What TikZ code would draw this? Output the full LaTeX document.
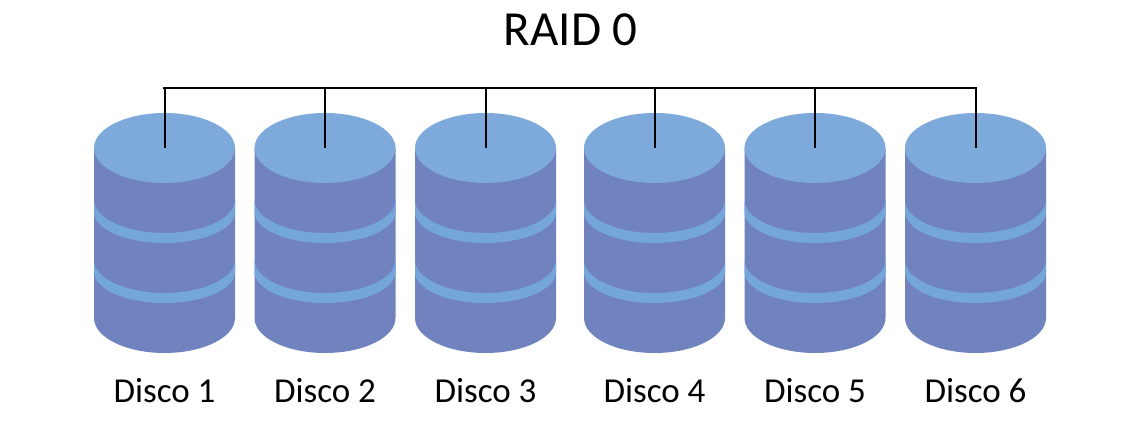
\documentclass[tikz,border=0pt]{standalone}
\usepackage{fontspec}
\setmainfont{Carlito}
\usetikzlibrary{positioning}
\definecolor{topColor}{RGB}{125,169,219}
\definecolor{bodyColor}{RGB}{113,131,190}
\definecolor{bandColor}{RGB}{117,166,217}

% one disc: body, two bands, lid, then its name underneath
\newcommand{\disco}[3]{
  \coordinate (#1) at (#2,274);
  \fill [bodyColor] (#1) ++(-70.5,0) -- ++(0,-170) arc[x radius=70.5pt,y radius=35pt,start angle=180,end angle=360] -- ++(0,170) -- cycle;
  \fill [bandColor] (#1) ++(-70.5,-52) arc[x radius=70.5pt,y radius=33pt,start angle=180,end angle=360] -- ++(0,-12) arc[x radius=70.5pt,y radius=31pt,start angle=360,end angle=180] -- cycle;
  \fill [bandColor] (#1) ++(-70.5,-112) arc[x radius=70.5pt,y radius=33pt,start angle=180,end angle=360] -- ++(0,-12) arc[x radius=70.5pt,y radius=31pt,start angle=360,end angle=180] -- cycle;
  \fill [topColor] (#1) ellipse[x radius=70.5pt,y radius=35pt];
  \node [caption, below=255pt of #1, anchor=base] (#1-caption) {#3};
  \coordinate [above=60pt of #1] (#1-bus);
}

\begin{document}
\begin{tikzpicture}[x=1pt,y=1pt]
  \tikzstyle{caption} = [inner sep=0pt,font=\fontsize{35}{41}\selectfont,text=black]
  \tikzstyle{title} = [inner sep=0pt,font=\fontsize{49}{57}\selectfont,text=black]
  \tikzstyle{wire} = [draw=black,line width=2pt]

  \useasboundingbox (0,0) rectangle (1140,422);

  \node [title, anchor=base] (raid) at (570.5,376) {RAID 0};

  \disco{disco1}{164.5}{Disco 1}
  \disco{disco2}{325}{Disco 2}
  \disco{disco3}{485.5}{Disco 3}
  \disco{disco4}{654.5}{Disco 4}
  \disco{disco5}{815}{Disco 5}
  \disco{disco6}{975.5}{Disco 6}

  \draw [wire, line width=2.4pt, line cap=rect] (disco1-bus) -- (disco6-bus);
  \draw [wire] (disco1-bus) -- (disco1);
  \draw [wire] (disco2-bus) -- (disco2);
  \draw [wire] (disco3-bus) -- (disco3);
  \draw [wire] (disco4-bus) -- (disco4);
  \draw [wire] (disco5-bus) -- (disco5);
  \draw [wire] (disco6-bus) -- (disco6);
\end{tikzpicture}
\end{document}
